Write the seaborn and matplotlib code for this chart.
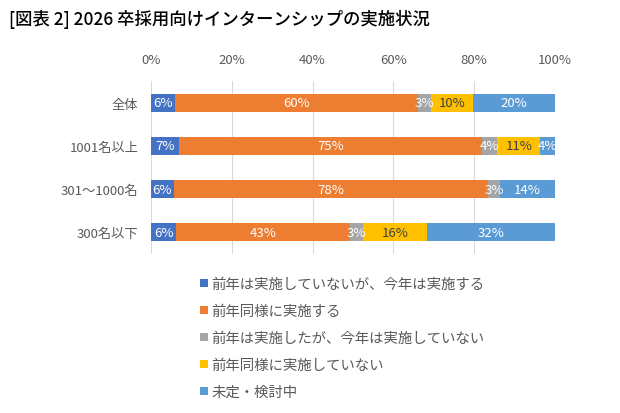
import numpy as np
import pandas as pd
import matplotlib
matplotlib.use("Agg")
import matplotlib.pyplot as plt
from matplotlib.lines import Line2D
import seaborn as sns

categories = ["全体", "1001名以上", "301～1000名", "300名以下"]
series_names = [
    "前年は実施していないが、今年は実施する",
    "前年同様に実施する",
    "前年は実施したが、今年は実施していない",
    "前年同様に実施していない",
    "未定・検討中",
]
s1 = [6.0, 6.9, 5.6, 6.3]
s2 = [60.1, 75.1, 77.9, 42.9]
s3 = [3.2, 3.7, 2.8, 3.2]
s4 = [10.3, 10.7, 0.0, 15.9]
s5 = [20.4, 3.6, 13.7, 31.7]
x_ticks = [0, 20, 40, 60, 80, 100]
title = "[図表 2] 2026 卒採用向けインターンシップの実施状況"

colors = ["#4472C4", "#ED7D31", "#A5A5A5", "#FFC000", "#5B9BD5"]
label_colors = ["white", "white", "white", "#404040", "white"]

sns.set_style("white")
plt.rcParams['font.family'] = ['Noto Sans CJK JP', 'DejaVu Sans']

series = [s1, s2, s3, s4, s5]
vals = np.array(series)
cum = np.cumsum(vals, axis=0)

fig = plt.figure(figsize=(6.2, 4.14), dpi=100)
ax = fig.add_axes([151/620, 1-255/414, 404/620, 173/414])

for i in range(len(series) - 1, -1, -1):
    df = pd.DataFrame({"cat": categories, "val": cum[i]})
    sns.barplot(data=df, y="cat", x="val", orient="h", color=colors[i],
                width=0.42, linewidth=0, saturation=1, ax=ax, order=categories)

for i in range(len(series)):
    for j, cat in enumerate(categories):
        v = vals[i, j]
        if v <= 0:
            continue
        ax.text(cum[i, j] - v / 2, j, f"{v:.0f}%", ha="center", va="center",
                fontsize=9.5, color=label_colors[i])

ax.set_xlim(0, 100)
ax.set_ylim(len(categories) - 0.5, -0.5)
ax.set_xticks(x_ticks)
ax.set_xticklabels([f"{t}%" for t in x_ticks])
ax.xaxis.tick_top()
ax.tick_params(axis="x", length=0, pad=11, labelsize=9.5, labelcolor="#595959")
ax.tick_params(axis="y", length=0, pad=9, labelsize=9.5, labelcolor="#595959")
ax.set_xlabel("")
ax.set_ylabel("")
for s in ax.spines.values():
    s.set_visible(False)
ax.set_axisbelow(True)
ax.grid(axis="x", color="#D9D9D9", linewidth=0.8)
ax.grid(axis="y", visible=False)

handles = [Line2D([0], [0], marker="s", linestyle="none", markersize=5.5,
                  markerfacecolor=c, markeredgewidth=0) for c in colors]
leg = fig.legend(handles, series_names, loc="upper left",
                 bbox_to_anchor=(198/620, 1-278/414), frameon=False,
                 fontsize=10.4, handlelength=0.8, handletextpad=0.15,
                 labelspacing=0.9, borderaxespad=0, borderpad=0)
for t in leg.get_texts():
    t.set_color("#595959")

fig.text(9/620, 1-19.5/414, title, ha="left", va="center", fontsize=12.5,
         color="black", fontweight="medium")

fig.savefig("out.png", dpi=100)
